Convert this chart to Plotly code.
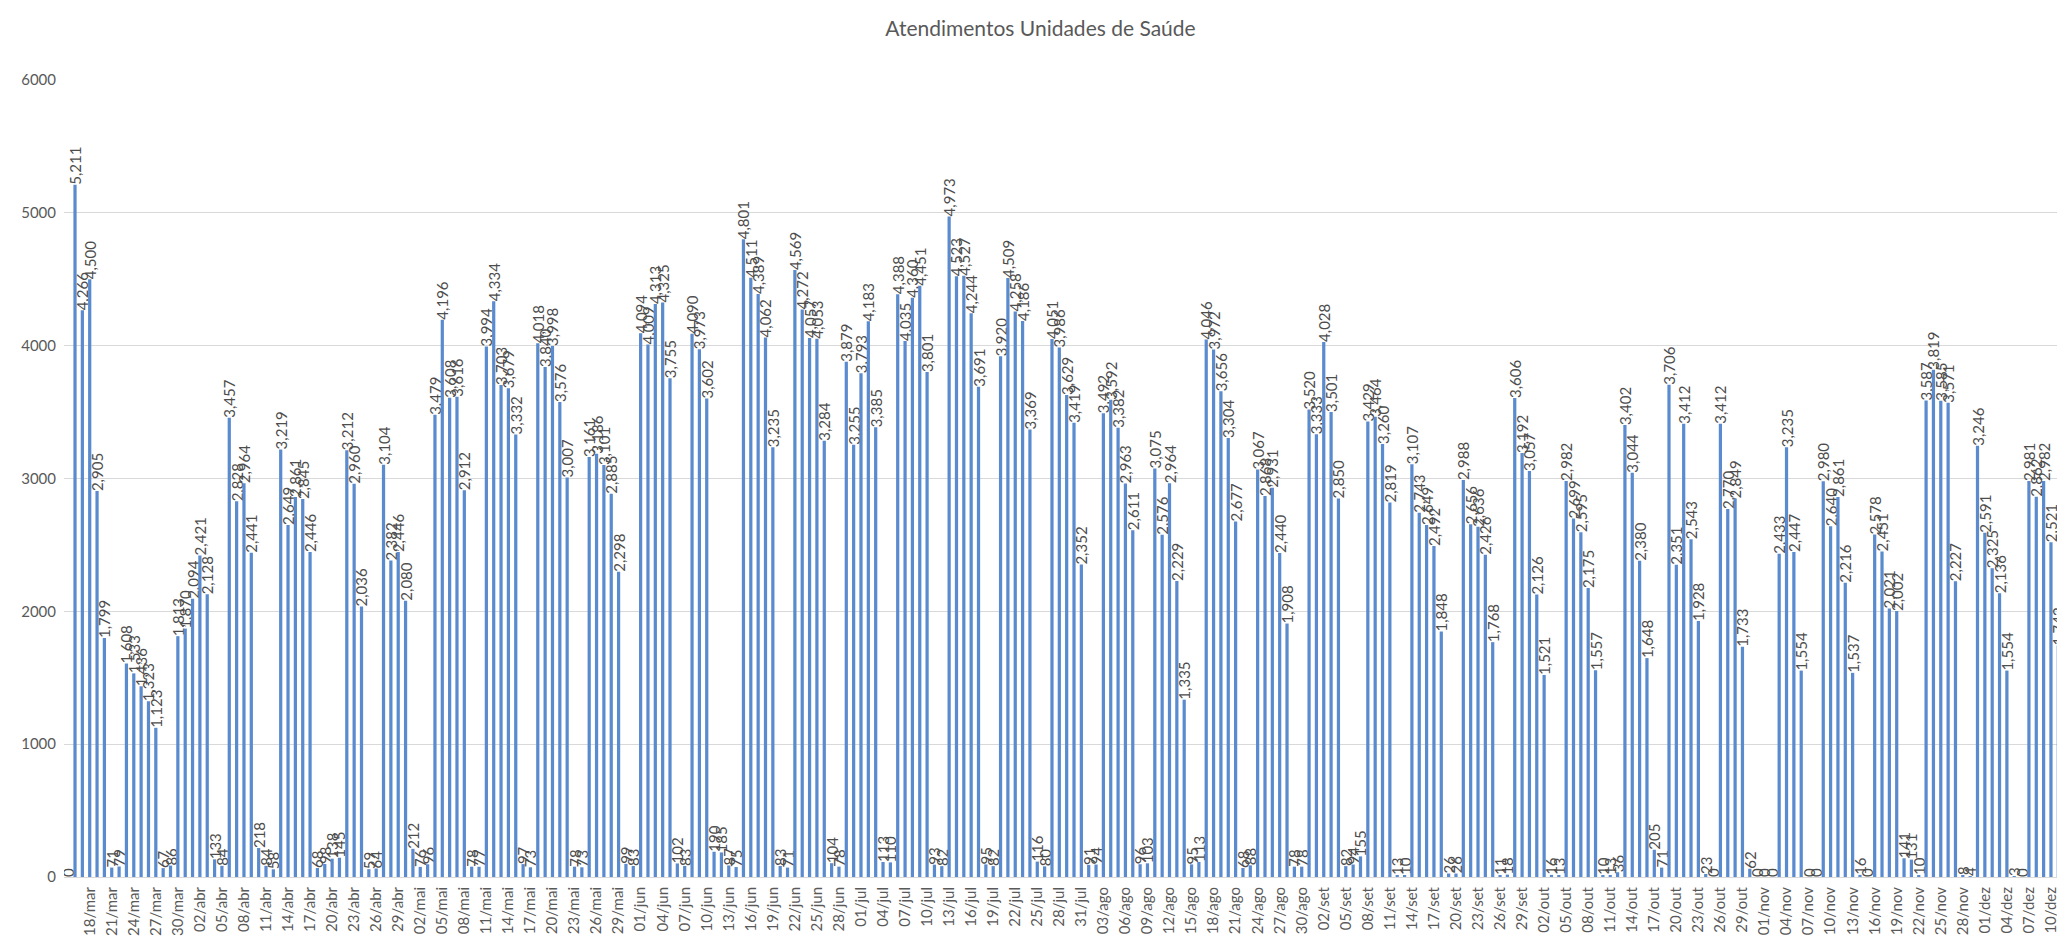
import datetime as dt
import plotly.graph_objects as go

# Daily values (atendimentos), 15/mar .. 11/dez
mar = [0, 5211, 4266, 4500, 2905, 1799, 71, 79, 1608, 1533, 1436, 1323, 1123, 67, 86, 1813, 1870]
abr = [2094, 2421, 2128, 133, 84, 3457, 2828, 2964, 2441, 218, 84, 58, 3219, 2649, 2861, 2845,
       2446, 68, 98, 138, 145, 3212, 2960, 2036, 59, 64, 3104, 2382, 2446, 2080]
mai = [212, 76, 96, 3479, 4196, 3608, 3616, 2912, 78, 77, 3994, 4334, 3703, 3679, 3332, 97, 73,
       4018, 3840, 3998, 3576, 3007, 78, 73, 3161, 3186, 3101, 2885, 2298, 99, 83]
jun = [4094, 4009, 4313, 4325, 3755, 102, 83, 4090, 3973, 3602, 190, 185, 87, 75, 4801, 4511,
       4389, 4062, 3235, 83, 71, 4569, 4272, 4057, 4053, 3284, 104, 78, 3879, 3255]
jul = [3793, 4183, 3385, 113, 110, 4388, 4035, 4360, 4451, 3801, 93, 82, 4973, 4523, 4527, 4244,
       3691, 95, 82, 3920, 4509, 4258, 4186, 3369, 116, 80, 4051, 3986, 3629, 3419, 2352]
ago = [91, 94, 3492, 3592, 3382, 2963, 2611, 96, 103, 3075, 2576, 2964, 2229, 1335, 95, 113,
       4046, 3972, 3656, 3304, 2677, 68, 88, 3067, 2868, 2931, 2440, 1908, 78, 78, 3520]
set_ = [3333, 4028, 3501, 2850, 82, 94, 155, 3429, 3464, 3260, 2819, 13, 10, 3107, 2743, 2649,
        2492, 1848, 26, 26, 2988, 2656, 2636, 2426, 1768, 11, 18, 3606, 3192, 3057]
out = [2126, 1521, 16, 13, 2982, 2699, 2595, 2175, 1557, 10, 13, 36, 3402, 3044, 2380, 1648,
       205, 71, 3706, 2351, 3412, 2543, 1928, 23, 0, 3412, 2770, 2849, 1733, 62, 0]
nov = [0, 0, 2433, 3235, 2447, 1554, 0, 0, 2980, 2640, 2861, 2216, 1537, 16, 0, 2578, 2451,
       2021, 2002, 141, 131, 10, 3587, 3819, 3585, 3571, 2227, 8, 4, 3246]
dez = [2591, 2325, 2136, 1554, 3, 0, 2981, 2862, 2982, 2521, 1742]

values = mar + abr + mai + jun + jul + ago + set_ + out + nov + dez

month_abbr = ["jan", "fev", "mar", "abr", "mai", "jun", "jul", "ago", "set", "out", "nov", "dez"]
start = dt.date(2020, 3, 15)
categories = []
for i in range(len(values)):
    d = start + dt.timedelta(days=i)
    categories.append(f"{d.day:02d}/{month_abbr[d.month - 1]}")

tick_labels = categories[3::3]

TEXT = "#595959"
FONT = "Lato"

fig = go.Figure(
    go.Bar(
        x=categories,
        y=values,
        marker=dict(color="#5b8bcf", line=dict(width=0)),
        texttemplate="%{y:,}",
        textposition="outside",
        textangle=-90,
        constraintext="none",
        cliponaxis=True,
        textfont=dict(family=FONT, size=15, color="#4d4d4d"),
        showlegend=False,
    )
)

fig.update_layout(
    width=2065,
    height=951,
    paper_bgcolor="white",
    plot_bgcolor="white",
    margin=dict(l=56, r=0, t=72, b=82),
    bargap=0.56,
    font=dict(family=FONT, color=TEXT),
    title=dict(
        text="Atendimentos Unidades de Saúde",
        x=0.5,
        xanchor="center",
        y=1 - 21 / 951,
        yanchor="middle",
        font=dict(family=FONT, size=21, color=TEXT),
    ),
)

fig.update_xaxes(
    type="category",
    range=[-0.5, 273.0],
    tickmode="array",
    tickvals=tick_labels,
    ticktext=tick_labels,
    tickangle=-90,
    tickfont=dict(family=FONT, size=15, color=TEXT),
    showgrid=False,
    showline=True,
    linecolor="#d9d9d9",
    linewidth=1,
    ticks="",
    ticklabelstandoff=3,
)

fig.update_yaxes(
    range=[0, 6000],
    tickmode="linear",
    tick0=0,
    dtick=1000,
    tickformat="d",
    tickfont=dict(family=FONT, size=15, color=TEXT),
    showgrid=True,
    gridcolor="#d9d9d9",
    gridwidth=1,
    zeroline=False,
    showline=False,
    ticks="",
    ticklabelstandoff=7,
)

fig.write_html("out.html")
